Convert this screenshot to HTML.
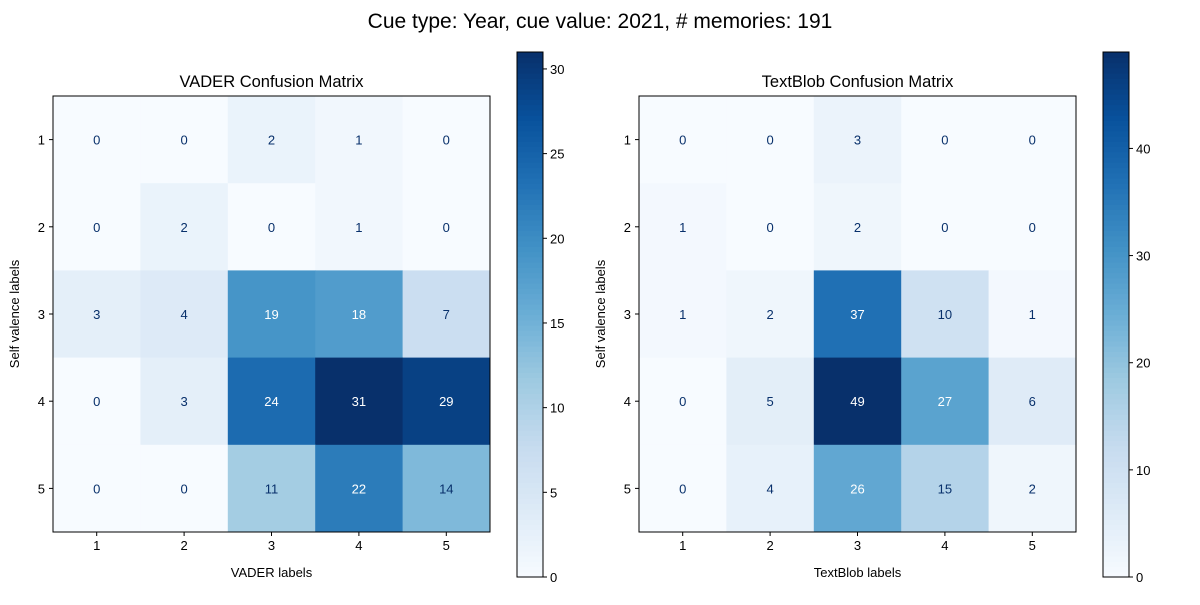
<!DOCTYPE html>
<html><head><meta charset="utf-8"><style>
body{margin:0;background:#fff;}
svg text{font-family:"Liberation Sans","DejaVu Sans",sans-serif;}
</style></head><body>
<svg id="c" width="1200" height="600" xmlns="http://www.w3.org/2000/svg">
<rect width="1200" height="600" fill="#fff"/>
<text x="600" y="28" font-size="21" text-anchor="middle" fill="#000">Cue type: Year, cue value: 2021, # memories: 191</text>
</svg>
<script>
const labels = ["1","2","3","4","5"];
const vaderValues = [[0,0,2,1,0],[0,2,0,1,0],[3,4,19,18,7],[0,3,24,31,29],[0,0,11,22,14]];
const textblobValues = [[0,0,3,0,0],[1,0,2,0,0],[1,2,37,10,1],[0,5,49,27,6],[0,4,26,15,2]];
const vaderTicks = [0,5,10,15,20,25,30];
const textblobTicks = [0,10,20,30,40];
const NS="http://www.w3.org/2000/svg";
const svg=document.getElementById('c');
const stops=["#f7fbff","#deebf7","#c6dbef","#9ecae1","#6baed6","#4292c6","#2171b5","#08519c","#08306b"];
function hx(h){return [1,3,5].map(i=>parseInt(h.substr(i,2),16));}
function blues(t){t=Math.max(0,Math.min(1,t));const p=t*8,i=Math.min(7,Math.floor(p)),f=p-i;const a=hx(stops[i]),b=hx(stops[i+1]);return `rgb(${a.map((v,k)=>Math.round(v+(b[k]-v)*f)).join(',')})`;}
function el(tag,attrs,parent){const e=document.createElementNS(NS,tag);for(const k in attrs)e.setAttribute(k,attrs[k]);(parent||svg).appendChild(e);return e;}
function txt(x,y,s,size,anchor,fill,parent){const t=el('text',{x:x,y:y,'font-size':size,'text-anchor':anchor,fill:fill},parent);t.textContent=s;return t;}
function panel(name,values,ticks,x0,cbx,title,xlabel){
  const g=el('g',{});
  
  
  const y0=96,W=437,H=436,n=labels.length,cw=W/n,ch=H/n;
  let mx=-Infinity,mn=Infinity;values.forEach(r=>r.forEach(v=>{mx=Math.max(mx,v);mn=Math.min(mn,v);}));
  const thresh=(mx+mn)/2;
  const xs=i=>x0+(i+0.5)*cw, ys=j=>y0+(j+0.5)*ch;
  values.forEach((row,j)=>row.forEach((v,i)=>{
    const r=el('rect',{x:x0+i*cw,y:y0+j*ch,width:cw+0.5,height:ch+0.5,fill:blues((v-mn)/(mx-mn))},g);
    
    
    const t=txt(xs(i),ys(j)+5,String(v),13,'middle',v<thresh?'#08306b':'#ffffff',g);
    
    
  }));
  el('rect',{x:x0,y:y0,width:W,height:H,fill:'none',stroke:'#000','stroke-width':1},g);
  labels.forEach((l,i)=>{
    el('line',{x1:xs(i),x2:xs(i),y1:y0+H,y2:y0+H+4,stroke:'#000'},g);
    const a=txt(xs(i),y0+H+18,l,13,'middle','#000',g);
    
    
    el('line',{x1:x0-4,x2:x0,y1:ys(i),y2:ys(i),stroke:'#000'},g);
    const b=txt(x0-8,ys(i)+5,l,13,'end','#000',g);
    
    
  });
  const tt=txt(x0+W/2,y0-9,title,16.5,'middle','#000',g);
  
  
  const xl=txt(x0+W/2,y0+H+45,xlabel,13,'middle','#000',g);
  
  
  const yl=txt(0,0,'Self valence labels',13,'middle','#000',g);
  yl.setAttribute('transform',`translate(${x0-34},${y0+H/2}) rotate(-90)`);
  
  
  const cy0=52,cy1=577,cw2=26,N=100;
  const cb=el('g',{},g);
  
  
  for(let k=0;k<N;k++){el('rect',{x:cbx,y:cy1-(k+1)*(cy1-cy0)/N,width:cw2,height:(cy1-cy0)/N+0.6,fill:blues((k+0.5)/N)},cb);}
  el('rect',{x:cbx,y:cy0,width:cw2,height:cy1-cy0,fill:'none',stroke:'#000'},cb);
  ticks.forEach(t=>{const y=cy1-(t-mn)/(mx-mn)*(cy1-cy0);
    el('line',{x1:cbx+cw2,x2:cbx+cw2+4,y1:y,y2:y,stroke:'#000'},cb);
    const c=txt(cbx+cw2+7,y+5,String(t),13,'start','#000',cb);
    
    
  });
}
panel('vader',vaderValues,vaderTicks,53,517,'VADER Confusion Matrix','VADER labels');
panel('textblob',textblobValues,textblobTicks,639,1103,'TextBlob Confusion Matrix','TextBlob labels');
</script>
</body></html>
